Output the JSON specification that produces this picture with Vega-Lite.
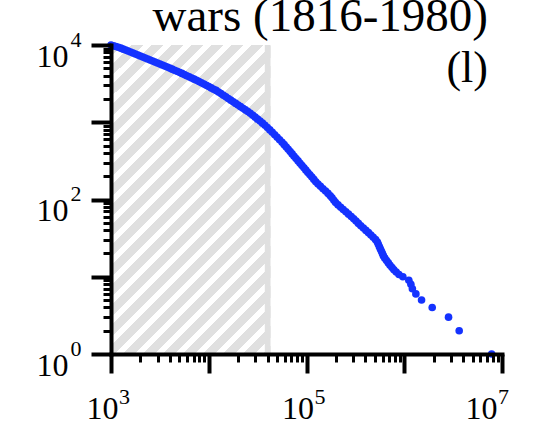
{
  "$schema": "https://vega.github.io/schema/vega-lite/v6.json",
  "width": 391,
  "height": 309,
  "autosize": {"type": "none"},
  "padding": {"left": 111, "top": 45, "right": 33, "bottom": 68},
  "background": "white",
  "config": {"view": {"stroke": null}},
  "resolve": {"axis": {"x": "independent", "y": "independent"}},
  "layer": [
    {
      "data": {"values": [{"x0": 1000, "x1": 42850, "y0": 1, "y1": 10000}]},
      "mark": {"type": "rect", "fill": {"gradient": "linear", "x1": 0, "y1": 0, "x2": 0.6177, "y2": 1.1973, "stops": [
        {"offset": 0, "color": "#e0e0e0"}, {"offset": 0.0256, "color": "#e0e0e0"}, {"offset": 0.0256, "color": "#ffffff"}, {"offset": 0.0427, "color": "#ffffff"},
        {"offset": 0.0427, "color": "#e0e0e0"}, {"offset": 0.0683, "color": "#e0e0e0"}, {"offset": 0.0683, "color": "#ffffff"}, {"offset": 0.0854, "color": "#ffffff"},
        {"offset": 0.0854, "color": "#e0e0e0"}, {"offset": 0.1110, "color": "#e0e0e0"}, {"offset": 0.1110, "color": "#ffffff"}, {"offset": 0.1281, "color": "#ffffff"},
        {"offset": 0.1281, "color": "#e0e0e0"}, {"offset": 0.1537, "color": "#e0e0e0"}, {"offset": 0.1537, "color": "#ffffff"}, {"offset": 0.1708, "color": "#ffffff"},
        {"offset": 0.1708, "color": "#e0e0e0"}, {"offset": 0.1964, "color": "#e0e0e0"}, {"offset": 0.1964, "color": "#ffffff"}, {"offset": 0.2135, "color": "#ffffff"},
        {"offset": 0.2135, "color": "#e0e0e0"}, {"offset": 0.2391, "color": "#e0e0e0"}, {"offset": 0.2391, "color": "#ffffff"}, {"offset": 0.2562, "color": "#ffffff"},
        {"offset": 0.2562, "color": "#e0e0e0"}, {"offset": 0.2818, "color": "#e0e0e0"}, {"offset": 0.2818, "color": "#ffffff"}, {"offset": 0.2989, "color": "#ffffff"},
        {"offset": 0.2989, "color": "#e0e0e0"}, {"offset": 0.3245, "color": "#e0e0e0"}, {"offset": 0.3245, "color": "#ffffff"}, {"offset": 0.3416, "color": "#ffffff"},
        {"offset": 0.3416, "color": "#e0e0e0"}, {"offset": 0.3672, "color": "#e0e0e0"}, {"offset": 0.3672, "color": "#ffffff"}, {"offset": 0.3843, "color": "#ffffff"},
        {"offset": 0.3843, "color": "#e0e0e0"}, {"offset": 0.4099, "color": "#e0e0e0"}, {"offset": 0.4099, "color": "#ffffff"}, {"offset": 0.4270, "color": "#ffffff"},
        {"offset": 0.4270, "color": "#e0e0e0"}, {"offset": 0.4526, "color": "#e0e0e0"}, {"offset": 0.4526, "color": "#ffffff"}, {"offset": 0.4697, "color": "#ffffff"},
        {"offset": 0.4697, "color": "#e0e0e0"}, {"offset": 0.4953, "color": "#e0e0e0"}, {"offset": 0.4953, "color": "#ffffff"}, {"offset": 0.5124, "color": "#ffffff"},
        {"offset": 0.5124, "color": "#e0e0e0"}, {"offset": 0.5380, "color": "#e0e0e0"}, {"offset": 0.5380, "color": "#ffffff"}, {"offset": 0.5551, "color": "#ffffff"},
        {"offset": 0.5551, "color": "#e0e0e0"}, {"offset": 0.5807, "color": "#e0e0e0"}, {"offset": 0.5807, "color": "#ffffff"}, {"offset": 0.5978, "color": "#ffffff"},
        {"offset": 0.5978, "color": "#e0e0e0"}, {"offset": 0.6234, "color": "#e0e0e0"}, {"offset": 0.6234, "color": "#ffffff"}, {"offset": 0.6405, "color": "#ffffff"},
        {"offset": 0.6405, "color": "#e0e0e0"}, {"offset": 0.6661, "color": "#e0e0e0"}, {"offset": 0.6661, "color": "#ffffff"}, {"offset": 0.6832, "color": "#ffffff"},
        {"offset": 0.6832, "color": "#e0e0e0"}, {"offset": 0.7088, "color": "#e0e0e0"}, {"offset": 0.7088, "color": "#ffffff"}, {"offset": 0.7259, "color": "#ffffff"},
        {"offset": 0.7259, "color": "#e0e0e0"}, {"offset": 0.7515, "color": "#e0e0e0"}, {"offset": 0.7515, "color": "#ffffff"}, {"offset": 0.7686, "color": "#ffffff"},
        {"offset": 0.7686, "color": "#e0e0e0"}, {"offset": 0.7942, "color": "#e0e0e0"}, {"offset": 0.7942, "color": "#ffffff"}, {"offset": 0.8113, "color": "#ffffff"},
        {"offset": 0.8113, "color": "#e0e0e0"}, {"offset": 0.8369, "color": "#e0e0e0"}, {"offset": 0.8369, "color": "#ffffff"}, {"offset": 0.8540, "color": "#ffffff"},
        {"offset": 0.8540, "color": "#e0e0e0"}, {"offset": 0.8796, "color": "#e0e0e0"}, {"offset": 0.8796, "color": "#ffffff"}, {"offset": 0.8967, "color": "#ffffff"},
        {"offset": 0.8967, "color": "#e0e0e0"}, {"offset": 0.9223, "color": "#e0e0e0"}, {"offset": 0.9223, "color": "#ffffff"}, {"offset": 0.9394, "color": "#ffffff"},
        {"offset": 0.9394, "color": "#e0e0e0"}, {"offset": 0.9650, "color": "#e0e0e0"}, {"offset": 0.9650, "color": "#ffffff"}, {"offset": 0.9821, "color": "#ffffff"},
        {"offset": 0.9821, "color": "#e0e0e0"}, {"offset": 1, "color": "#e0e0e0"}
      ]}},
      "encoding": {
        "x": {"field": "x0", "type": "quantitative", "scale": {"type": "log", "domain": [1000, 10000000], "nice": false},
          "axis": {"orient": "bottom", "values": [1000, 10000, 100000, 1000000, 10000000], "title": null, "grid": false, "domain": true, "domainColor": "black", "domainWidth": 4, "domainCap": "square", "ticks": true, "tickColor": "black", "tickWidth": 4, "tickSize": 19, "labelExpr": "(datum.value == 1000 || datum.value == 100000 || datum.value == 10000000) ? '10' : ''", "labelFont": "Liberation Serif", "labelFontSize": 32, "labelColor": "black", "labelBaseline": "alphabetic", "labelPadding": 45, "labelOffset": {"condition": {"test": "datum.value == 10000000", "value": -21}, "value": -9}, "labelFlush": false, "labelOverlap": false, "zindex": 1}},
        "x2": {"field": "x1"},
        "y": {"field": "y0", "type": "quantitative", "scale": {"type": "log", "domain": [1, 10000], "nice": false},
          "axis": {"orient": "left", "values": [1, 100, 10000], "title": null, "grid": false, "domain": false, "ticks": false, "tickSize": 0, "labelExpr": "datum.value == 1 ? '0' : datum.value == 100 ? '2' : '4'", "labelFont": "Liberation Serif", "labelFontSize": 22, "labelColor": "black", "labelAlign": "right", "labelBaseline": "alphabetic", "labelPadding": 30, "labelOffset": 1, "labelFlush": false, "labelOverlap": false}},
        "y2": {"field": "y1"}
      }
    },
    {
      "data": {"values": [{"xb": 40050}]},
      "mark": {"type": "rule", "color": "#e0e0e0", "strokeWidth": 5.7},
      "encoding": {
        "x": {"field": "xb", "type": "quantitative", "scale": {"type": "log", "domain": [1000, 10000000], "nice": false},
          "axis": {"orient": "bottom", "values": [1000, 100000, 10000000], "title": null, "grid": false, "domain": false, "ticks": false, "tickSize": 0, "labelExpr": "datum.value == 1000 ? '3' : datum.value == 100000 ? '5' : '7'", "labelFont": "Liberation Serif", "labelFontSize": 22, "labelColor": "black", "labelBaseline": "alphabetic", "labelPadding": 49, "labelOffset": {"condition": {"test": "datum.value == 10000000", "value": 1}, "value": 13}, "labelFlush": false, "labelOverlap": false}}
      }
    },
    {
      "data": {"values": [
        {"x": 1000, "y": 10000}, {"x": 1059, "y": 9772}, {"x": 1122, "y": 9550}, {"x": 1189, "y": 9333}, {"x": 1259, "y": 9099},
        {"x": 1334, "y": 8831}, {"x": 1413, "y": 8590}, {"x": 1496, "y": 8356}, {"x": 1585, "y": 8128}, {"x": 1679, "y": 7888},
        {"x": 1778, "y": 7656}, {"x": 1884, "y": 7430}, {"x": 1995, "y": 7211}, {"x": 2113, "y": 6998}, {"x": 2239, "y": 6792},
        {"x": 2371, "y": 6592}, {"x": 2512, "y": 6397}, {"x": 2661, "y": 6209}, {"x": 2818, "y": 6026}, {"x": 2985, "y": 5847},
        {"x": 3162, "y": 5675}, {"x": 3350, "y": 5508}, {"x": 3548, "y": 5346}, {"x": 3758, "y": 5188}, {"x": 3981, "y": 5024},
        {"x": 4217, "y": 4864}, {"x": 4467, "y": 4720}, {"x": 4732, "y": 4571}, {"x": 5012, "y": 4426}, {"x": 5309, "y": 4286},
        {"x": 5623, "y": 4140}, {"x": 5957, "y": 3999}, {"x": 6310, "y": 3873}, {"x": 6683, "y": 3741}, {"x": 7079, "y": 3614},
        {"x": 7499, "y": 3491}, {"x": 7943, "y": 3373}, {"x": 8414, "y": 3251}, {"x": 8913, "y": 3126}, {"x": 9441, "y": 3006},
        {"x": 10000, "y": 2897}, {"x": 10593, "y": 2786}, {"x": 11220, "y": 2679}, {"x": 11885, "y": 2582}, {"x": 12589, "y": 2466},
        {"x": 13335, "y": 2350}, {"x": 14125, "y": 2239}, {"x": 14962, "y": 2133}, {"x": 15849, "y": 2032}, {"x": 16788, "y": 1931},
        {"x": 17783, "y": 1841}, {"x": 18836, "y": 1754}, {"x": 19953, "y": 1671}, {"x": 21135, "y": 1592}, {"x": 22387, "y": 1517},
        {"x": 23714, "y": 1445}, {"x": 25119, "y": 1377}, {"x": 26607, "y": 1309}, {"x": 28184, "y": 1233}, {"x": 29854, "y": 1164},
        {"x": 31623, "y": 1096}, {"x": 33497, "y": 1035}, {"x": 35481, "y": 973}, {"x": 37584, "y": 914}, {"x": 39811, "y": 855},
        {"x": 42170, "y": 796}, {"x": 44668, "y": 740}, {"x": 47315, "y": 689}, {"x": 50119, "y": 640}, {"x": 53088, "y": 594},
        {"x": 56234, "y": 552}, {"x": 59150, "y": 513}, {"x": 62090, "y": 479}, {"x": 65020, "y": 447}, {"x": 68080, "y": 417},
        {"x": 71280, "y": 389}, {"x": 74640, "y": 363}, {"x": 78160, "y": 339}, {"x": 82040, "y": 316}, {"x": 85900, "y": 295},
        {"x": 89960, "y": 275}, {"x": 94200, "y": 257}, {"x": 98630, "y": 240}, {"x": 103300, "y": 224}, {"x": 108400, "y": 209},
        {"x": 113500, "y": 195}, {"x": 118900, "y": 182}, {"x": 124500, "y": 170}, {"x": 131200, "y": 158.5}, {"x": 139000, "y": 148},
        {"x": 147600, "y": 138}, {"x": 156700, "y": 129}, {"x": 166000, "y": 120}, {"x": 175000, "y": 112}, {"x": 182400, "y": 105},
        {"x": 190500, "y": 97.7}, {"x": 198600, "y": 91.2}, {"x": 210400, "y": 85.1}, {"x": 223900, "y": 79.4}, {"x": 237700, "y": 74.1},
        {"x": 252900, "y": 69.2}, {"x": 269200, "y": 64.6}, {"x": 287000, "y": 60.3}, {"x": 304100, "y": 56.2}, {"x": 321300, "y": 52.5},
        {"x": 339600, "y": 49.0}, {"x": 359700, "y": 45.7}, {"x": 381900, "y": 42.7}, {"x": 405500, "y": 39.8}, {"x": 430600, "y": 37.2},
        {"x": 456000, "y": 34.7}, {"x": 481900, "y": 32.4}, {"x": 509300, "y": 30.2}, {"x": 530900, "y": 28.2}, {"x": 543200, "y": 26.3},
        {"x": 557100, "y": 24.5}, {"x": 570100, "y": 22.9}, {"x": 584700, "y": 21.4}, {"x": 598300, "y": 20.0}, {"x": 612400, "y": 18.6},
        {"x": 632500, "y": 17.4}, {"x": 659200, "y": 16.2}, {"x": 687100, "y": 15.1}, {"x": 716100, "y": 14.1}, {"x": 749900, "y": 13.2},
        {"x": 783400, "y": 12.3}, {"x": 827900, "y": 11.5}, {"x": 883100, "y": 10.7}, {"x": 968000, "y": 10}, {"x": 1114000, "y": 9},
        {"x": 1169000, "y": 8}, {"x": 1211000, "y": 7}, {"x": 1315000, "y": 6}, {"x": 1503000, "y": 5}, {"x": 1932000, "y": 4},
        {"x": 2838000, "y": 3}, {"x": 3648000, "y": 2}, {"x": 7834000, "y": 1}
      ]},
      "mark": {"type": "circle", "size": 58, "color": "#1432ff", "opacity": 1},
      "encoding": {
        "x": {"field": "x", "type": "quantitative", "scale": {"type": "log", "domain": [1000, 10000000], "nice": false},
          "axis": {"orient": "bottom", "values": [2000, 3000, 4000, 5000, 6000, 7000, 8000, 9000, 20000, 30000, 40000, 50000, 60000, 70000, 80000, 90000, 200000, 300000, 400000, 500000, 600000, 700000, 800000, 900000, 2000000, 3000000, 4000000, 5000000, 6000000, 7000000, 8000000, 9000000], "title": null, "grid": false, "domain": false, "ticks": true, "tickColor": "black", "tickWidth": 3, "tickSize": 8, "labels": false, "zindex": 1}},
        "y": {"field": "y", "type": "quantitative", "scale": {"type": "log", "domain": [1, 10000], "nice": false},
          "axis": {"orient": "left", "values": [1, 10, 100, 1000, 10000], "title": null, "grid": false, "domain": true, "domainColor": "black", "domainWidth": 4, "domainCap": "square", "ticks": true, "tickColor": "black", "tickWidth": 4, "tickSize": 20, "labelExpr": "(datum.value == 1 || datum.value == 100 || datum.value == 10000) ? '10' : ''", "labelFont": "Liberation Serif", "labelFontSize": 32, "labelColor": "black", "labelAlign": "right", "labelBaseline": "alphabetic", "labelPadding": 23, "labelOffset": 21, "labelFlush": false, "labelOverlap": false, "zindex": 1}}
      }
    },
    {
      "data": {"values": [{"label": "(l)", "x": 7180000, "y": 3340}]},
      "mark": {"type": "text", "font": "Liberation Serif", "fontSize": 44, "align": "right", "baseline": "alphabetic", "color": "black"},
      "encoding": {
        "x": {"field": "x", "type": "quantitative", "scale": {"type": "log", "domain": [1000, 10000000], "nice": false}, "axis": null},
        "y": {"field": "y", "type": "quantitative", "scale": {"type": "log", "domain": [1, 10000], "nice": false},
          "axis": {"orient": "left", "values": [2, 3, 4, 5, 6, 7, 8, 9, 20, 30, 40, 50, 60, 70, 80, 90, 200, 300, 400, 500, 600, 700, 800, 900, 2000, 3000, 4000, 5000, 6000, 7000, 8000, 9000], "title": null, "grid": false, "domain": false, "ticks": true, "tickColor": "black", "tickWidth": 3, "tickSize": 8, "labels": false, "zindex": 1}},
        "text": {"field": "label"}
      }
    },
    {
      "data": {"values": [{"label": "wars (1816-1980)", "x": 7180000, "y": 15060}]},
      "mark": {"type": "text", "font": "Liberation Serif", "fontSize": 47, "align": "right", "baseline": "alphabetic", "color": "black"},
      "encoding": {
        "x": {"field": "x", "type": "quantitative", "scale": {"type": "log", "domain": [1000, 10000000], "nice": false}, "axis": null},
        "y": {"field": "y", "type": "quantitative", "scale": {"type": "log", "domain": [1, 10000], "nice": false}, "axis": null},
        "text": {"field": "label"}
      }
    }
  ]
}
